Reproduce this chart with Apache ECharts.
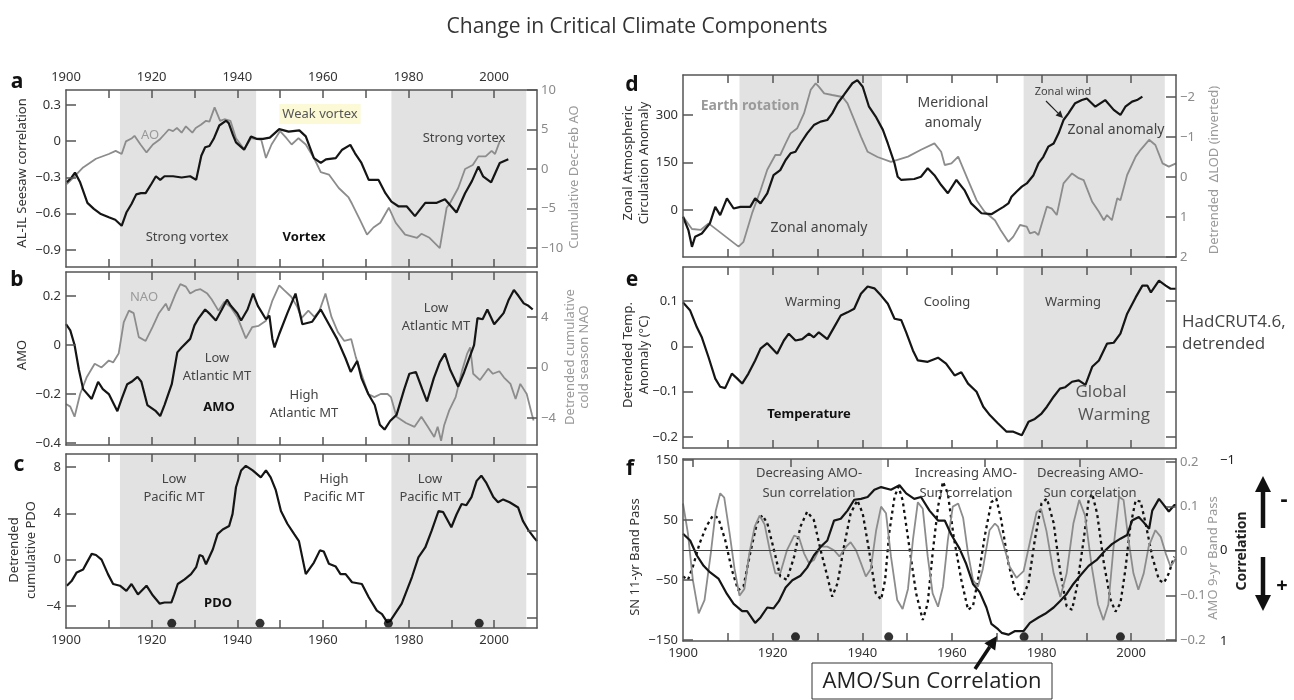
<!DOCTYPE html>
<html><head><meta charset="utf-8">
<script src="https://cdn.jsdelivr.net/npm/echarts@6/dist/echarts.min.js"></script>
<style>html,body{margin:0;padding:0;background:#fff}#c{width:1294px;height:700px}</style>
</head><body><div id="c"></div>
<script>
// ---------------- DATA ----------------
const yearLabels = [1900, 1920, 1940, 1960, 1980, 2000];
const decadeTicks = [1910, 1920, 1930, 1940, 1950, 1960, 1970, 1980, 1990, 2000];
const fTopTicks = [1902.2, 1924, 1945.7, 1967.3, 1988.6];
const shadedPeriods = [[1912.6, 1944.4], [1976, 2007.5]];

const ticksA = [-0.9, -0.6, -0.3, 0, 0.3];
const ticksAR = [-10, -5, 0, 5, 10];
const ticksB = [-0.4, -0.2, 0, 0.2];
const ticksBR = [-4, 0, 4];
const ticksC = [-4, 0, 4, 8];
const ticksCR = [-5, -1.25, 2.5, 6.25];
const ticksD = [-150, 0, 150, 300];
const ticksDR = [-2, -1, 0, 1, 2];
const ticksE = [-0.2, -0.1, 0, 0.1];
const ticksF = [-150, -50, 50, 150];
const ticksFR = [-0.2, -0.1, 0, 0.1, 0.2];
const ticksCorr = [-1, 0, 1];

// panel a
const seesaw = [[1900.2,-0.34],[1901.3,-0.30],[1902.1,-0.26],[1903.3,-0.34],[1905,-0.51],[1906.5,-0.56],[1908,-0.60],[1910,-0.63],[1911.5,-0.65],[1913,-0.70],[1914.1,-0.59],[1915.3,-0.52],[1916.4,-0.44],[1917.5,-0.43],[1918.6,-0.43],[1920,-0.35],[1921,-0.29],[1922,-0.32],[1923,-0.29],[1925,-0.29],[1927,-0.30],[1929,-0.29],[1930.4,-0.32],[1931.6,-0.12],[1932.5,-0.05],[1933.5,-0.04],[1934.5,0.02],[1935.8,0.13],[1937.4,0.17],[1938,0.15],[1939,0.05],[1939.7,-0.01],[1941.6,-0.07],[1943.2,0.04],[1944.5,0.02],[1946,0.02],[1947.6,0.03],[1949.8,0.10],[1952,0.08],[1954.5,0.09],[1956,0.04],[1957.9,-0.14],[1959.5,-0.18],[1960.7,-0.15],[1963,-0.14],[1964.5,-0.07],[1966.4,-0.03],[1967.5,-0.10],[1969,-0.18],[1970.7,-0.32],[1973,-0.32],[1974.6,-0.43],[1976,-0.50],[1977.7,-0.54],[1979.6,-0.54],[1981.5,-0.62],[1983.9,-0.51],[1986.6,-0.51],[1988.5,-0.48],[1991.2,-0.59],[1993.2,-0.43],[1994.8,-0.33],[1996.3,-0.21],[1997.4,-0.29],[1999.3,-0.34],[2001.3,-0.18],[2003.3,-0.15]];
const aoCum = [[1900.2,-1.9],[1901.7,-1.1],[1904,0.2],[1907,1.3],[1910,1.9],[1911.6,2.3],[1913,1.9],[1914,3.5],[1915.4,3.9],[1916,4.2],[1917.4,3.1],[1918.8,2.1],[1920.3,3.1],[1921.8,3.7],[1923,4.4],[1924,5.0],[1925,4.8],[1925.9,5.2],[1927,4.6],[1928,5.4],[1929.5,4.6],[1930.3,5.2],[1931.5,5.6],[1932.7,6.1],[1933.5,6.0],[1934.7,7.8],[1936,6.1],[1937,6.3],[1938.4,6.1],[1939.7,3.9],[1941.6,2.5],[1943.2,3.9],[1945.6,3.7],[1946.7,1.4],[1948,3.1],[1950,4.8],[1951.5,3.9],[1952.7,3.1],[1954.3,3.9],[1956,3.1],[1958,1.3],[1959.5,-0.4],[1961.4,-0.7],[1963.7,-2.4],[1966,-3.6],[1966.8,-4.4],[1968.8,-6.6],[1970.3,-8.3],[1971.8,-7.4],[1973.4,-6.8],[1975.4,-4.9],[1977,-6.8],[1979.2,-8.3],[1982,-8.7],[1983,-8.2],[1984.9,-8.7],[1987.3,-10],[1988.9,-4.9],[1989.6,-4.4],[1991.6,-2.4],[1993.2,0],[1995,0.5],[1996.3,1.6],[1998,1.6],[1999.4,2.3],[2000.2,1.9],[2001.3,3.5]];
// panel b
const amo = [[1900,0.085],[1901,0.06],[1902,0],[1903,-0.1],[1904,-0.18],[1906,-0.22],[1907.5,-0.15],[1908.6,-0.18],[1910,-0.2],[1912,-0.27],[1913,-0.22],[1914.3,-0.16],[1915.3,-0.15],[1916.7,-0.13],[1917.6,-0.15],[1919,-0.245],[1921,-0.27],[1922,-0.29],[1923,-0.245],[1924.7,-0.16],[1926,-0.03],[1927,-0.01],[1929,0.025],[1930,0.08],[1931,0.11],[1932.5,0.145],[1933.7,0.125],[1935,0.1],[1936.4,0.145],[1937.6,0.185],[1938.5,0.16],[1940,0.13],[1940.9,0.1],[1942.4,0.145],[1943.7,0.21],[1944.8,0.16],[1946.7,0.105],[1947.5,0.12],[1948.2,0.025],[1948.7,-0.01],[1949.8,0.045],[1951.7,0.13],[1953.6,0.21],[1955.2,0.085],[1957.5,0.095],[1959.5,0.145],[1961.4,0.085],[1963.3,0.025],[1965.3,-0.055],[1966.5,-0.11],[1968,-0.065],[1969,-0.135],[1970.6,-0.2],[1972.1,-0.245],[1973.3,-0.325],[1974.4,-0.345],[1975.7,-0.31],[1977.2,-0.285],[1979,-0.18],[1980.2,-0.117],[1981.7,-0.11],[1983.2,-0.18],[1984.3,-0.23],[1985.9,-0.135],[1987.3,-0.07],[1988.5,-0.035],[1989.7,-0.1],[1991.6,-0.17],[1993,-0.11],[1995.3,0],[1996.1,0.11],[1997.3,0.105],[1998.4,0.145],[2000,0.085],[2001,0.105],[2002.2,0.13],[2003.4,0.185],[2004.6,0.225],[2005.7,0.2],[2006.9,0.17],[2008,0.16],[2009,0.145]];
const naoCum = [[1900,-2.9],[1901,-3.1],[1902,-3.9],[1903.3,-2.1],[1904.8,-0.8],[1906.7,0.3],[1908.3,0.0],[1910,0.55],[1911,0.4],[1912.3,1.1],[1913.5,3.6],[1914.7,4.5],[1915.8,4.3],[1917,2.4],[1918.6,2.1],[1920.2,3.2],[1921.7,4.3],[1923.3,5.05],[1924,4.5],[1925.6,5.85],[1926.7,6.6],[1928,6.4],[1929,5.85],[1930.2,6.1],[1931.4,6.2],[1933,5.85],[1934,5.4],[1935.6,4.5],[1937,5.2],[1938.4,4.8],[1940,4.0],[1942,2.3],[1943.5,3.2],[1945,3.3],[1946.7,3.7],[1948.2,5.3],[1949.8,6.5],[1951,6.1],[1952.6,5.6],[1954,4.8],[1955,3.9],[1956.6,4.5],[1958,4.0],[1959.2,4.5],[1960.6,5.85],[1962,4.0],[1963.5,2.8],[1965,2.1],[1966.6,2.25],[1967.7,0.8],[1969,-0.5],[1970.6,-2.1],[1972,-2.35],[1973.5,-2.1],[1975.1,-2.1],[1975.9,-2.35],[1977.2,-3.9],[1979.4,-4.4],[1981.4,-4.7],[1983,-3.9],[1984.5,-4.7],[1986,-5.5],[1986.8,-4.7],[1987.6,-5.8],[1988.3,-4.6],[1989.5,-3.4],[1991,-2.35],[1992.5,-0.25],[1993.7,1.1],[1994.4,1.6],[1995.1,-0.5],[1996.7,-1.0],[1998.6,-0.1],[1999.7,-0.5],[2001.2,-0.3],[2002.3,-0.8],[2003.8,-1.3],[2005,-2.5],[2006.1,-1.3],[2007.6,-2.1],[2008.8,-3.7],[2009.2,-4.2]];
// panel c
const pdoCum = [[1900.2,-2.25],[1901.3,-1.85],[1902.5,-1.1],[1904,-0.85],[1904.8,-0.3],[1906,0.5],[1907,0.4],[1908.3,0.0],[1909.8,-1.25],[1911,-2.1],[1912.6,-2.25],[1914.1,-2.7],[1915.3,-2.1],[1916.8,-3.0],[1918.8,-2.25],[1920.3,-3.1],[1921.9,-3.8],[1923,-3.7],[1924.6,-3.7],[1925.3,-3.0],[1926.1,-2.1],[1927.7,-1.7],[1929.2,-1.25],[1930.4,-0.65],[1931.2,0.4],[1931.9,0.3],[1932.7,-0.4],[1934.3,0.9],[1935.4,2.2],[1936.6,2.6],[1938.1,2.9],[1938.9,3.95],[1939.7,6.25],[1940.9,7.7],[1942,8.1],[1943.6,7.7],[1945.5,7.1],[1946.7,7.7],[1947.8,7.1],[1949,6.0],[1950.2,4.2],[1951.7,3.1],[1953.3,2.2],[1954.4,1.6],[1956,-1.25],[1957.9,-0.25],[1959.3,0.8],[1960.2,0.7],[1961.4,-0.35],[1963,-0.6],[1964.1,-1.25],[1965.3,-1.25],[1966.8,-1.95],[1969.1,-2.1],[1970.7,-3.25],[1972.6,-4.4],[1973.8,-4.7],[1975,-5.4],[1975.7,-5.3],[1978.4,-3.8],[1980.8,-1.5],[1982.3,0.2],[1983.9,1.05],[1985.4,2.5],[1987,4.2],[1988.1,4.1],[1990,2.8],[1991.2,3.9],[1992.4,4.8],[1993.5,4.7],[1994.7,5.4],[1995.9,6.8],[1997,7.25],[1998.2,6.6],[1999.8,5.4],[2000.9,4.95],[2002.1,5.2],[2003.6,4.95],[2005.6,4.5],[2006.7,3.35],[2007.9,2.6],[2009.3,1.9],[2010,1.6]];
const dotYearsC = [1924.7, 1945.3, 1975.3, 1996.5];
const dotLevelC = -5.5;
// panel d
const zonalCirc = [[1900,-21],[1901.2,-63],[1902,-116],[1902.7,-84],[1904.2,-74],[1906,-42],[1907.2,10],[1908.3,-16],[1909.8,37],[1911.3,5],[1912.8,10],[1915,10],[1916.1,37],[1917.3,21],[1918.8,53],[1920.2,110],[1921.7,126],[1922.9,158],[1924,179],[1925.1,184],[1926.2,210],[1927.7,242],[1929.2,268],[1930.7,279],[1932.2,284],[1933.3,305],[1934.5,337],[1935.9,363],[1937.8,400],[1938.9,410],[1940.1,389],[1941.5,326],[1943,295],[1944.6,253],[1945.7,210],[1947.2,147],[1947.9,105],[1948.7,95],[1951.6,98],[1953.1,105],[1954.6,132],[1956.1,110],[1957.6,79],[1959.1,53],[1961,95],[1962.8,63],[1964.3,21],[1966.6,-10],[1968.8,-13],[1970.3,0],[1971.5,10],[1972.6,21],[1973.3,42],[1974.4,58],[1975.6,74],[1976.7,84],[1978.2,110],[1979.3,147],[1980.4,168],[1981.5,200],[1982.7,210],[1983.8,242],[1984.9,284],[1986,305],[1987.5,337],[1989,347],[1990.1,352],[1992,326],[1994.2,347],[1996.1,316],[1997.6,300],[1998.7,326],[2000.2,342],[2001.3,347],[2002.5,358]];
const lodInv = [[1900,0.99],[1902,1.3],[1904,1.32],[1905.7,1.16],[1912.4,1.74],[1913.5,1.62],[1915.4,0.91],[1917.3,0.33],[1918.8,-0.18],[1920.6,-0.55],[1921.7,-0.55],[1922.9,-0.84],[1924,-1.09],[1925.5,-1.22],[1927,-1.59],[1928.5,-2.18],[1929.6,-2.34],[1930.3,-2.26],[1931.5,-2.09],[1933.3,-2.05],[1935.6,-2.0],[1936.7,-1.84],[1938.2,-1.43],[1939.7,-1.01],[1941.2,-0.63],[1943.4,-0.5],[1946.4,-0.38],[1950.2,-0.51],[1953.1,-0.68],[1956.1,-0.84],[1957.6,-0.63],[1958.4,-0.3],[1959.9,-0.34],[1961.4,-0.51],[1963.6,0.08],[1965.5,0.58],[1967.3,0.87],[1969.6,1.08],[1970.9,1.33],[1972.6,1.62],[1973.7,1.49],[1975.2,1.2],[1976.7,1.24],[1977.4,1.41],[1978.5,1.37],[1979.3,1.45],[1981.2,0.74],[1982.3,0.79],[1983.4,0.95],[1984.9,0.16],[1986.8,-0.09],[1988.3,0.03],[1989.4,0.08],[1991.3,0.62],[1992.8,0.87],[1993.9,1.08],[1994.6,0.95],[1995.7,1.08],[1996.9,0.53],[1997.6,0.58],[1999.1,-0.05],[2001,-0.51],[2002.1,-0.68],[2004,-0.93],[2005.4,-0.8],[2007,-0.34],[2008.4,-0.26],[2010,-0.34]];
// panel e
const hadcrut = [[1900,0.097],[1901.6,0.079],[1903.1,0.042],[1904.2,0.02],[1905.7,-0.024],[1907.2,-0.071],[1908.3,-0.089],[1909.4,-0.092],[1910.9,-0.06],[1912,-0.07],[1913.2,-0.082],[1914.6,-0.06],[1916.1,-0.031],[1917.3,-0.005],[1918.8,0.007],[1921,-0.016],[1922.5,0.013],[1923.6,0.028],[1925.1,0.013],[1926.6,0.016],[1928.1,0.028],[1929.2,0.02],[1930.3,0.031],[1932.2,0.016],[1933.7,0.042],[1935.2,0.068],[1936.7,0.075],[1938.2,0.083],[1939.7,0.116],[1941.2,0.132],[1942.7,0.128],[1944.2,0.112],[1945.7,0.094],[1947.2,0.061],[1948.7,0.058],[1949.8,0.031],[1951.3,-0.009],[1952.4,-0.031],[1954.6,-0.034],[1956.9,-0.025],[1958.7,-0.038],[1960.6,-0.064],[1962.1,-0.057],[1963.6,-0.082],[1965.5,-0.1],[1967,-0.133],[1968.5,-0.152],[1970.3,-0.17],[1972.2,-0.188],[1973.7,-0.188],[1975.6,-0.196],[1977.1,-0.166],[1978.5,-0.16],[1980,-0.148],[1981.2,-0.133],[1982.7,-0.111],[1984.1,-0.093],[1985.3,-0.09],[1986.8,-0.078],[1988.3,-0.075],[1989.8,-0.085],[1991.3,-0.045],[1992.8,-0.031],[1994.6,0.006],[1996.1,0.008],[1997.6,0.028],[1999.1,0.072],[2001,0.108],[2002.5,0.134],[2003.6,0.134],[2004.4,0.119],[2006.2,0.145],[2007.7,0.134],[2008.8,0.127],[2010,0.127]];
// panel f
const snBand = [[1900,-44],[1901.1,-50],[1902.2,-28],[1903.7,11],[1905.2,39],[1906.7,58],[1907.9,53],[1909.4,17],[1910.9,-33],[1912.3,-67],[1913.5,-61],[1915,-5],[1916.5,45],[1917.7,58],[1918.8,45],[1920.3,0],[1921.7,-44],[1923.2,-50],[1924.8,-11],[1926.2,39],[1927.7,64],[1929.2,50],[1930.7,0],[1932.2,-44],[1933.3,-78],[1934.5,-55],[1935.9,5],[1937.4,61],[1938.9,83],[1940.1,61],[1941.5,0],[1943,-72],[1944.2,-83],[1945.1,-50],[1946,28],[1947.2,89],[1948.1,106],[1949,83],[1950.5,5],[1952,-72],[1953.5,-117],[1954.6,-89],[1955.7,-5],[1956.9,72],[1958,114],[1959.1,94],[1960.4,22],[1962.1,-50],[1963.6,-100],[1964.7,-94],[1965.8,-50],[1967.3,22],[1968.8,80],[1969.9,86],[1971,50],[1972.6,-22],[1974.1,-67],[1975.6,-83],[1977.1,-55],[1978.5,17],[1980,78],[1981.2,86],[1982.7,45],[1984.1,-33],[1985.6,-94],[1986.8,-100],[1987.9,-61],[1989.4,17],[1990.5,83],[1991.3,94],[1992.4,61],[1993.9,-22],[1995.4,-83],[1996.5,-103],[1997.6,-89],[1998.7,-33],[1999.8,39],[2001,83],[2002.1,81],[2003.2,45],[2004.7,-11],[2006.2,-50],[2007.3,-55],[2008.4,-39],[2009.6,-11]];
const amoBand = [[1900,0.107],[1901.1,0.04],[1902.2,-0.065],[1903.5,-0.14],[1904.8,-0.11],[1906.2,-0.005],[1907.3,0.09],[1908.3,0.13],[1909.2,0.12],[1910.4,0.04],[1911.5,-0.04],[1912.6,-0.1],[1913.7,-0.085],[1914.8,-0.005],[1916,0.055],[1917.1,0.08],[1918.2,0.06],[1919.5,-0.005],[1920.6,-0.05],[1921.7,-0.05],[1923.2,0.002],[1924.8,0.035],[1925.9,0.03],[1927,-0.005],[1928.1,-0.027],[1929.2,-0.02],[1930.7,0.01],[1932.2,0.01],[1933.7,0.002],[1934.9,-0.012],[1936.4,0.01],[1937.4,0.02],[1938.6,0.002],[1939.7,-0.027],[1940.8,-0.057],[1941.9,-0.04],[1943.1,0.047],[1944.2,0.1],[1945.3,0.085],[1946.4,-0.012],[1947.8,-0.11],[1949,-0.13],[1950.2,-0.085],[1951.3,0.025],[1952.4,0.11],[1953.5,0.095],[1954.6,-0.012],[1955.7,-0.095],[1956.9,-0.125],[1958,-0.08],[1959.1,0.025],[1960.2,0.1],[1961.4,0.107],[1962.5,0.075],[1963.6,-0.005],[1964.7,-0.065],[1965.8,-0.08],[1966.9,-0.04],[1968.4,0.047],[1969.6,0.062],[1970.3,0.055],[1971.4,0.018],[1972.9,-0.035],[1974.4,-0.06],[1976,-0.045],[1977.4,0.02],[1978.9,0.088],[1979.9,0.095],[1981.1,0.045],[1982.7,-0.05],[1984.2,-0.103],[1985.6,-0.05],[1987.1,0.062],[1988.4,0.115],[1989.7,0.08],[1991.2,-0.035],[1992.6,-0.12],[1993.8,-0.155],[1994.9,-0.12],[1996,0.002],[1997.3,0.122],[1998.3,0.115],[1999.4,0.025],[2000.5,-0.05],[2001.6,-0.087],[2002.8,-0.05],[2003.9,0.01],[2005.4,0.047],[2006.6,0.032],[2007.7,-0.005],[2008.8,-0.035],[2009.9,-0.017]];
const amoSunCorr = [[1900,-0.185],[1901.6,-0.11],[1903.1,0.056],[1904.6,0.17],[1906,0.24],[1907.9,0.31],[1909.8,0.48],[1911.3,0.59],[1913.2,0.67],[1914.3,0.67],[1916.1,0.80],[1917.3,0.74],[1918.8,0.63],[1920.2,0.64],[1921.4,0.56],[1922.9,0.41],[1924.4,0.33],[1926.2,0.28],[1927.7,0.19],[1929.2,0.056],[1930.7,-0.04],[1932.2,-0.11],[1933.7,-0.33],[1935.2,-0.35],[1936.7,-0.44],[1938.2,-0.56],[1939.7,-0.57],[1941.2,-0.59],[1942.7,-0.67],[1944.2,-0.70],[1946.4,-0.67],[1948.3,-0.72],[1949.8,-0.63],[1951.6,-0.57],[1953.1,-0.59],[1955,-0.44],[1956.9,-0.33],[1958.4,-0.33],[1959.9,-0.17],[1961.7,-0.02],[1963.2,0.15],[1964.7,0.37],[1966.2,0.46],[1967.7,0.63],[1968.8,0.81],[1970.3,0.87],[1971.1,0.91],[1972.6,0.93],[1974.1,0.89],[1976,0.89],[1977.4,0.80],[1979.3,0.74],[1980.8,0.70],[1982.7,0.63],[1984.1,0.56],[1985.6,0.48],[1987.1,0.37],[1988.6,0.28],[1990.5,0.17],[1992.4,0.10],[1994.2,0.0],[1995.7,-0.07],[1997.6,-0.13],[1999.1,-0.17],[2000.2,-0.33],[2001.7,-0.37],[2002.8,-0.31],[2004,-0.24],[2004.7,-0.44],[2006.2,-0.57],[2007,-0.52],[2008.4,-0.43],[2009.6,-0.5],[2010,-0.5]];
const dotYearsF = [1925.1, 1945.9, 1976.1, 1997.6];
const dotLevelF = -145;

// ---------------- LAYOUT / STYLE ----------------
const FONT = "'Noto Sans', 'DejaVu Sans', sans-serif";
const FRAME = '#555';
const BLACK = '#151515';
const GREY = '#8c8c8c';
const SHADE = '#e2e2e2';
const fmt = v => (v < 0 ? '\u2212' : '') + Math.abs(v);
const fmtYear = v => String(Math.round(v));

const panels = [
  {g:[66,90,471,177],  yl:[-1.041,0.424], ylt:ticksA, yr:[-12.4,10],   yrt:ticksAR, yrl:true,  xTop:true},
  {g:[66,272,471,173], yl:[-0.408,0.298], ylt:ticksB, yr:[-6.14,7.56], yrt:ticksBR, yrl:true},
  {g:[66,454,471,174], yl:[-5.9,9.12],    ylt:ticksC, yr:[-5.9,9.12],  yrt:ticksCR, yrl:false, xBottom:true},
  {g:[683,75,493,182], yl:[-148,426],     ylt:ticksD, yr:[-2.55,2],    yrt:ticksDR, yrl:true,  yrInv:true},
  {g:[683,267,493,181],yl:[-0.224,0.175], ylt:ticksE, yr:[-0.224,0.175],yrt:ticksE, yrl:false},
  {g:[683,459,493,182],yl:[-152,152],     ylt:ticksF, yr:[-0.202,0.207],yrt:ticksFR,yrl:true, xBottom:true, topTicks:fTopTicks}
];

const grid = [], xAxis = [], yAxis = [], series = [];
const lineStyleAxis = {color: FRAME, width: 1.5};
panels.forEach((p, i) => {
  grid.push({left:p.g[0], top:p.g[1], width:p.g[2], height:p.g[3]});
  const mkX = (pos, showLab, ticks) => ({
    type:'value', gridIndex:i, position:pos, min:1900, max:2010, z:5,
    axisLine:{show:true, onZero:false, lineStyle:lineStyleAxis},
    axisTick:{show:true, inside:true, length:8, customValues:ticks, lineStyle:lineStyleAxis},
    axisLabel:{show:!!showLab, customValues:yearLabels, formatter:fmtYear, color:'#333', fontSize:13, fontFamily:FONT, margin:6},
    splitLine:{show:false}
  });
  xAxis.push(mkX('bottom', p.xBottom, decadeTicks));
  xAxis.push(mkX('top', p.xTop, p.topTicks || decadeTicks));
  yAxis.push({
    type:'value', gridIndex:i, position:'left', min:p.yl[0], max:p.yl[1], z:5,
    axisLine:{show:true, onZero:false, lineStyle:lineStyleAxis},
    axisTick:{show:true, inside:true, length:10, customValues:p.ylt, lineStyle:lineStyleAxis},
    axisLabel:{customValues:p.ylt, formatter:fmt, color:'#333', fontSize:13, fontFamily:FONT, margin:5},
    splitLine:{show:false}
  });
  yAxis.push({
    type:'value', gridIndex:i, position:'right', min:p.yr[0], max:p.yr[1], inverse:!!p.yrInv, z:5,
    axisLine:{show:true, onZero:false, lineStyle:lineStyleAxis},
    axisTick:{show:true, inside:true, length:10, customValues:p.yrt, lineStyle:lineStyleAxis},
    axisLabel:{show:p.yrl, customValues:p.yrt, formatter:fmt, color:'#8a8a8a', fontSize:13, fontFamily:FONT, margin:4},
    splitLine:{show:false}
  });
  series.push({
    type:'line', xAxisIndex:2*i, yAxisIndex:2*i, data:[[1900, p.yl[0]]], z:1, silent:true,
    showSymbol:false, lineStyle:{opacity:0},
    markArea:{silent:true, itemStyle:{color:SHADE, opacity:1},
      data: shadedPeriods.map(s => [{xAxis:s[0]}, {xAxis:s[1]}])}
  });
});
// correlation axis (third axis in panel f)
yAxis.push({
  type:'value', gridIndex:5, position:'right', offset:44, min:-1.01, max:1.0, inverse:true, z:5,
  axisLine:{show:false}, axisTick:{show:false}, splitLine:{show:false},
  axisLabel:{customValues:ticksCorr, formatter:fmt, color:'#222', fontSize:13, fontFamily:FONT, margin:0}
});

const ln = (data, xi, yi, color, width, extra) => Object.assign({
  type:'line', xAxisIndex:xi, yAxisIndex:yi, data, showSymbol:false, symbol:'none', z:3, silent:true,
  lineStyle:{color, width}
}, extra || {});

series.push(ln(aoCum, 0, 1, GREY, 1.8));
series.push(ln(seesaw, 0, 0, BLACK, 2.2));
series.push(ln(naoCum, 2, 3, GREY, 1.8));
series.push(ln(amo, 2, 2, BLACK, 2.2));
series.push(ln(pdoCum, 4, 4, BLACK, 2.2));
series.push({type:'scatter', xAxisIndex:4, yAxisIndex:4, symbolSize:9, z:4, silent:true,
  itemStyle:{color:'#000'}, data: dotYearsC.map(y => [y, dotLevelC])});
series.push(ln(lodInv, 6, 7, GREY, 1.8));
series.push(ln(zonalCirc, 6, 6, BLACK, 2.2));
series.push(ln(hadcrut, 8, 8, BLACK, 2.2));
series.push(ln(snBand, 10, 10, '#111', 2.3, {
  lineStyle:{color:'#111', width:2.3, type:[3,3.5]},
  markLine:{silent:true, symbol:['none','none'], label:{show:false},
    lineStyle:{color:'#444', width:1, type:'solid'}, data:[{yAxis:0}]}
}));
series.push(ln(amoBand, 10, 11, GREY, 1.8));
series.push(ln(amoSunCorr, 10, 12, BLACK, 2.2));
series.push({type:'scatter', xAxisIndex:10, yAxisIndex:10, symbolSize:9, z:4, silent:true,
  itemStyle:{color:'#000'}, data: dotYearsF.map(y => [y, dotLevelF])});

// ---------------- TEXT / GRAPHICS ----------------
function txt(x, y, text, o) {
  o = o || {};
  return {type:'text', x, y, rotation:o.rot || 0, z:20, silent:true,
    style:{text, align:o.align || 'center', verticalAlign:'middle',
      textAlign:o.align || 'center', textVerticalAlign:'middle',
      fill:o.color || '#444', fontSize:o.size || 13, fontFamily:o.family || FONT,
      fontWeight:o.weight || 'normal', lineHeight:o.lh || Math.round((o.size||13)*1.35),
      backgroundColor:o.bg, padding:o.pad}};
}
function arrow(x1, y1, x2, y2, w, head, color) {
  const a = Math.atan2(y2 - y1, x2 - x1);
  const bx = x2 - head * Math.cos(a), by = y2 - head * Math.sin(a);
  const px = -Math.sin(a) * head * 0.5, py = Math.cos(a) * head * 0.5;
  return [
    {type:'line', z:20, silent:true, shape:{x1, y1, x2:bx, y2:by}, style:{stroke:color, lineWidth:w}},
    {type:'polygon', z:20, silent:true, shape:{points:[[x2,y2],[bx+px,by+py],[bx-px,by-py]]}, style:{fill:color}}
  ];
}
const R = Math.PI / 2;
const OPEN = "'Open Sans', sans-serif";
const graphics = [
  txt(637, 27, 'Change in Critical Climate Components', {size:21, color:'#333', family:OPEN}),
  txt(17, 82, 'a', {size:21, weight:'bold', color:'#111'}),
  txt(17, 280, 'b', {size:21, weight:'bold', color:'#111'}),
  txt(19, 465, 'c', {size:21, weight:'bold', color:'#111'}),
  txt(632, 85, 'd', {size:21, weight:'bold', color:'#111'}),
  txt(632, 280, 'e', {size:21, weight:'bold', color:'#111'}),
  txt(630, 469, 'f', {size:21, weight:'bold', color:'#111'}),
  // axis names
  txt(22, 173, 'AL-IL Seesaw correlation', {rot:R, color:'#333'}),
  txt(574, 177, 'Cumulative Dec-Feb AO', {rot:R, color:'#9a9a9a'}),
  txt(22, 355, 'AMO', {rot:R, color:'#333'}),
  txt(570, 357, 'Detrended cumulative', {rot:R, color:'#9a9a9a'}),
  txt(584, 357, 'cold season NAO', {rot:R, color:'#9a9a9a'}),
  txt(14, 550, 'Detrended', {rot:R, color:'#333'}),
  txt(31, 550, 'cumulative PDO', {rot:R, color:'#333'}),
  txt(628, 163, 'Zonal Atmospheric', {rot:R, color:'#333'}),
  txt(644, 163, 'Circulation Anomaly', {rot:R, color:'#333'}),
  txt(1214, 170, 'Detrended  \u0394LOD (inverted)', {rot:R, color:'#9a9a9a'}),
  txt(628, 355, 'Detrended Temp.', {rot:R, color:'#333'}),
  txt(644, 355, 'Anomaly (\u00B0C)', {rot:R, color:'#333'}),
  txt(635, 557, 'SN 11-yr Band Pass', {rot:R, color:'#333'}),
  txt(1213, 558, 'AMO 9-yr Band Pass', {rot:R, color:'#9a9a9a'}),
  txt(1242, 551, 'Correlation', {rot:R, color:'#222', weight:'bold', size:14}),
  // panel a
  txt(150, 135, 'AO', {color:'#9a9a9a'}),
  txt(320, 114, 'Weak vortex', {color:'#555', bg:'#fbf9d6', pad:[1,3]}),
  txt(187, 237, 'Strong vortex'),
  txt(304, 237, 'Vortex', {weight:'bold', color:'#111'}),
  txt(464, 138, 'Strong vortex'),
  // panel b
  txt(144, 297, 'NAO', {color:'#9a9a9a'}),
  txt(217, 367, 'Low\nAtlantic MT', {lh:18}),
  txt(219, 407, 'AMO', {weight:'bold', color:'#111'}),
  txt(304, 404, 'High\nAtlantic MT', {lh:18}),
  txt(436, 317, 'Low\nAtlantic MT', {lh:18}),
  // panel c
  txt(174, 488, 'Low\nPacific MT', {lh:18}),
  txt(218, 603, 'PDO', {weight:'bold', color:'#111'}),
  txt(334, 488, 'High\nPacific MT', {lh:18}),
  txt(430, 488, 'Low\nPacific MT', {lh:18}),
  // panel d
  txt(750, 106, 'Earth rotation', {color:'#9a9a9a', weight:'bold', size:14}),
  txt(953, 113, 'Meridional\nanomaly', {size:14, lh:20}),
  txt(819, 228, 'Zonal anomaly', {size:14}),
  txt(1063, 92, 'Zonal wind', {size:11}),
  txt(1116, 130, 'Zonal anomaly', {size:14}),
  // panel e
  txt(813, 302, 'Warming'),
  txt(947, 302, 'Cooling'),
  txt(1073, 302, 'Warming'),
  txt(809, 414, 'Temperature', {weight:'bold', color:'#111'}),
  txt(1101, 392, 'Global', {size:17, color:'#555', family:OPEN}),
  txt(1114, 415, 'Warming', {size:17, color:'#555', family:OPEN}),
  txt(1182, 322, 'HadCRUT4.6,', {size:17, align:'left', color:'#444', family:OPEN}),
  txt(1182, 344, 'detrended', {size:17, align:'left', color:'#444', family:OPEN}),
  // panel f
  txt(809, 483, 'Decreasing AMO-\nSun correlation', {lh:20}),
  txt(966, 483, 'Increasing AMO-\nSun correlation', {lh:20}),
  txt(1090, 483, 'Decreasing AMO-\nSun correlation', {lh:20}),
  txt(1284, 500, '-', {size:22, weight:'bold', color:'#111'}),
  txt(1282, 586, '+', {size:20, weight:'bold', color:'#111'}),
  {type:'rect', z:19, silent:true, shape:{x:812, y:663, width:240, height:36}, style:{fill:'#fff', stroke:'#333', lineWidth:1}},
  txt(932, 682, 'AMO/Sun Correlation', {size:22, color:'#222', family:OPEN})
].concat(
  arrow(1046, 101, 1063, 118, 1.2, 7, '#222'),
  arrow(975, 669, 997, 636, 3.5, 13, '#111'),
  arrow(1263, 528, 1263, 476, 4.5, 16, '#111'),
  arrow(1263, 557, 1263, 611, 4.5, 16, '#111')
);

const chart = echarts.init(document.getElementById('c'), null, {renderer:'canvas'});
chart.setOption({
  backgroundColor:'#fff', animation:false,
  textStyle:{fontFamily:FONT},
  grid, xAxis, yAxis, series, graphic:graphics
});
</script>
</body></html>
